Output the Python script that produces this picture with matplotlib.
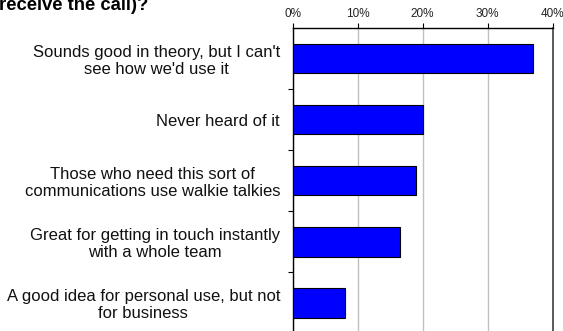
import matplotlib.pyplot as plt
import numpy as np

labels = ["Sounds good in theory, but I can't\nsee how we'd use it",
          "Never heard of it",
          "Those who need this sort of\ncommunications use walkie talkies",
          "Great for getting in touch instantly\nwith a whole team",
          "A good idea for personal use, but not\nfor business"]
values = [37.0, 20.0, 19.0, 16.5, 8.1]
xticks = [0, 10, 20, 30, 40]

plt.rcParams['font.family'] = ['Liberation Sans', 'DejaVu Sans']

fig = plt.figure(figsize=(5.63, 3.31), dpi=100)
ax = fig.add_axes([0.5196, -0.0076, 0.4621, 0.9230])

y = np.arange(len(values))
ax.barh(y, values, height=0.48, color='#0000FF', edgecolor='black', linewidth=0.8, zorder=3)

ax.set_xlim(0, 40)
ax.set_ylim(len(values) - 0.5, -0.5)
ax.xaxis.tick_top()
ax.set_xticks(xticks)
ax.set_xticklabels(['%d%%' % v for v in xticks], fontsize=8.5, color='#222222')
ax.tick_params(axis='x', direction='out', length=3.5, width=0.8, pad=2.5)
ax.grid(axis='x', color='#c0c0c0', linewidth=1, zorder=0)

# category boundary ticks on the left, labels sit between them
ax.set_yticks(np.arange(len(values)) + 0.5)
ax.set_yticklabels([])
ax.set_yticks(y, minor=True)
ax.set_yticklabels(labels, minor=True, fontsize=12, ha='right', multialignment='center',
                   linespacing=1.15, color='#111111')
ax.tick_params(axis='y', which='major', direction='out', length=3.6, width=0.8)
ax.tick_params(axis='y', which='minor', length=0, pad=9)

ax.spines['bottom'].set_visible(False)
ax.spines['right'].set_color('#404040')
ax.spines['right'].set_linewidth(1.2)
ax.spines['left'].set_linewidth(1)
ax.spines['top'].set_linewidth(1)

fig.text(-0.002, 1 - 9.5 / 331, 'receive the call)?', fontsize=13.3, fontweight='bold',
         ha='left', va='baseline')

fig.savefig('out.png', dpi=100)
